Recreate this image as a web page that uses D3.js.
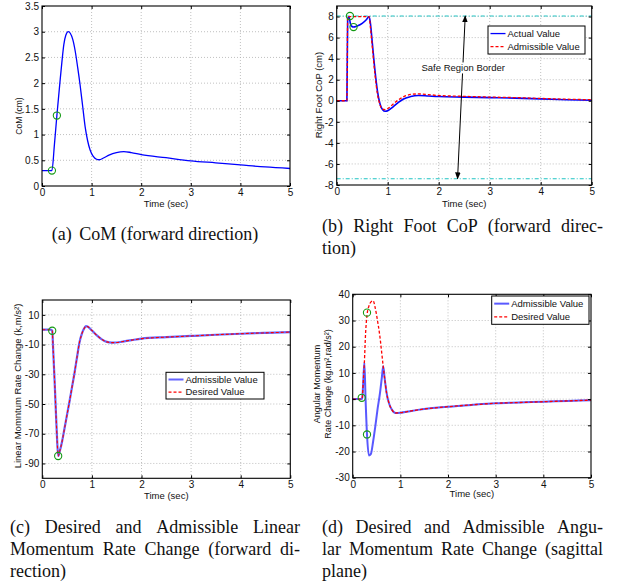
<!DOCTYPE html>
<html lang="en">
<head>
<meta charset="UTF-8">
<title>Push recovery - CoM, CoP and momentum rate change</title>
<script src="https://cdn.jsdelivr.net/npm/d3@7"></script>
<style>
body { margin: 0; background: #fff; }
.caption { font-family: "Liberation Serif", "Times New Roman", serif; font-size: 18px; fill: #111; }
</style>
</head>
<body>
<svg id="fig" width="623" height="586"></svg>
<script>
// shared x ticks (seconds)
const timeTicks = [0, 1, 2, 3, 4, 5];

// (a) CoM forward direction
const comTicks = [0, 0.5, 1, 1.5, 2, 2.5, 3, 3.5];
const comTime = [0, 0.2, 0.25, 0.3, 0.36, 0.4, 0.44, 0.48, 0.53, 0.57, 0.62, 0.67, 0.72, 0.77, 0.82, 0.87, 0.92, 0.97, 1.03, 1.1, 1.15, 1.25, 1.35, 1.5, 1.65, 1.8, 2.0, 2.5, 3.0, 3.5, 4.0, 4.5, 5.0];
const comValue = [0.3, 0.3, 0.8, 1.37, 2.0, 2.4, 2.75, 2.93, 3.0, 2.97, 2.85, 2.62, 2.3, 1.95, 1.55, 1.15, 0.88, 0.7, 0.58, 0.52, 0.51, 0.55, 0.6, 0.65, 0.67, 0.65, 0.61, 0.55, 0.49, 0.45, 0.41, 0.37, 0.34];
const comMarkTime = [0.2, 0.3];
const comMarkValue = [0.3, 1.37];

// (b) right foot CoP
const copTicks = [-8, -6, -4, -2, 0, 2, 4, 6, 8];
const copTime = [0, 0.2, 0.215, 0.24, 0.27, 0.3, 0.33, 0.4, 0.5, 0.58, 0.635, 0.66, 0.7, 0.75, 0.8, 0.85, 0.9, 0.95, 1.0, 1.1, 1.2, 1.3, 1.45, 1.6, 1.8, 2.0, 2.5, 3.0, 3.5, 4.0, 4.5, 5.0];
const copActual = [0, 0, 7.8, 7.95, 7.3, 7.05, 7.0, 7.1, 7.35, 7.7, 8.0, 7.4, 5.4, 2.9, 0.9, -0.3, -0.85, -1.0, -0.95, -0.6, -0.2, 0.15, 0.4, 0.5, 0.45, 0.4, 0.35, 0.3, 0.25, 0.18, 0.1, 0.05];
const copAdmissible = [0, 0, 8, 8, 8, 8, 8, 8, 8, 8, 8, 7.0, 5.0, 2.5, 0.6, -0.4, -0.8, -0.85, -0.75, -0.35, 0.05, 0.35, 0.6, 0.65, 0.58, 0.5, 0.42, 0.35, 0.3, 0.22, 0.15, 0.1];
const copMarkTime = [0.26, 0.33];
const copMarkValue = [8.05, 7.0];
const safeBorder = [8.05, -7.4];

// (c) linear momentum rate change
const linTicks = [10, -10, -30, -50, -70, -90];
const linTime = [0, 0.17, 0.2, 0.22, 0.25, 0.28, 0.3, 0.32, 0.35, 0.4, 0.45, 0.5, 0.55, 0.6, 0.65, 0.7, 0.75, 0.8, 0.85, 0.88, 0.92, 1.0, 1.1, 1.2, 1.3, 1.4, 1.5, 1.65, 1.8, 2.0, 2.5, 3.0, 3.5, 4.0, 4.5, 5.0];
const linAdmissible = [0, 0, -0.7, -14, -36, -60, -75, -85, -82, -75, -66, -57, -48, -38.5, -29, -18.5, -8.5, -2.5, 1.2, 2.4, 2.0, -0.5, -3.8, -6.5, -8.2, -8.7, -8.6, -7.8, -7.0, -6.0, -5.0, -4.2, -3.4, -2.7, -2.1, -1.6];
const linDesired = [0, 0, -0.7, -14, -36, -60, -75, -85, -82, -75, -66, -57, -48, -38.5, -29, -18.5, -8.5, -2.5, 1.2, 2.4, 2.0, -0.5, -3.8, -6.5, -8.2, -8.7, -8.6, -7.8, -7.0, -6.0, -5.0, -4.2, -3.4, -2.7, -2.1, -1.6];
const linMarkTime = [0.2, 0.32];
const linMarkValue = [-0.7, -85];

// (d) angular momentum rate change
const angTicks = [-30, -20, -10, 0, 10, 20, 30, 40];
const angTime = [0, 0.18, 0.2, 0.22, 0.245, 0.27, 0.3, 0.34, 0.38, 0.43, 0.47, 0.52, 0.57, 0.61, 0.64, 0.67, 0.71, 0.76, 0.82, 0.9, 1.0, 1.2, 1.5, 2.0, 2.5, 3.0, 3.5, 4.0, 4.5, 5.0];
const angAdmissible = [0, 0, 0.5, 6, 14, 0, -13.5, -21.5, -21, -16, -11, -4, 2, 8, 12.5, 8, 2.5, -1.5, -4, -5.3, -5.2, -4.6, -3.8, -2.9, -2.2, -1.6, -1.3, -1.0, -0.7, -0.4];
const angDesired = [0, 0, 0.5, 6, 14, 25, 32, 35.5, 37, 37.5, 35, 30, 24, 17.5, 12.5, 8, 2.5, -1.5, -4, -5.3, -5.2, -4.6, -3.8, -2.9, -2.2, -1.6, -1.3, -1.0, -0.7, -0.4];
const angMarkTime = [0.19, 0.3, 0.3];
const angMarkValue = [0.5, 33, -13.5];

const SANS = "'Liberation Sans', Arial, Helvetica, sans-serif";
const BLUE = "#0000ff";
const RED = "#ff0000";
const GREEN = "#149a14";
const CYAN = "#1fc4c4";

const svg = d3.select("#fig");
svg.append("rect").attr("width", 623).attr("height", 586).attr("fill", "#fff");

// matlab style: plain hyphen as minus
const fmt = v => String(v);

function makeAxes(box, yDomain, yTicks) {
    const x = d3.scaleLinear().domain([0, 5]).range([box.left, box.right]);
    const y = d3.scaleLinear().domain(yDomain).range([box.bottom, box.top]);
    const g = svg.append("g");

    // dotted grid
    g.selectAll(".gx").data(timeTicks.filter(t => t > 0 && t < 5)).join("line")
        .attr("x1", d => x(d)).attr("x2", d => x(d))
        .attr("y1", box.top).attr("y2", box.bottom)
        .attr("stroke", "#b0b0b0").attr("stroke-width", 0.8).attr("stroke-dasharray", "1,2");
    g.selectAll(".gy").data(yTicks.filter(v => v > yDomain[0] && v < yDomain[1])).join("line")
        .attr("x1", box.left).attr("x2", box.right)
        .attr("y1", d => y(d)).attr("y2", d => y(d))
        .attr("stroke", "#b0b0b0").attr("stroke-width", 0.8).attr("stroke-dasharray", "1,2");

    const axes = svg.append("g").attr("font-family", SANS).attr("font-size", 9.5);
    axes.append("g").attr("transform", `translate(0,${box.bottom})`)
        .call(d3.axisBottom(x).tickValues(timeTicks).tickSize(-3).tickPadding(3).tickFormat(fmt));
    axes.append("g").attr("transform", `translate(0,${box.top})`)
        .call(d3.axisTop(x).tickValues(timeTicks).tickSize(-3).tickFormat(""));
    axes.append("g").attr("transform", `translate(${box.left},0)`)
        .call(d3.axisLeft(y).tickValues(yTicks).tickSize(-3).tickPadding(3).tickFormat(fmt));
    axes.append("g").attr("transform", `translate(${box.right},0)`)
        .call(d3.axisRight(y).tickValues(yTicks).tickSize(-3).tickFormat(""));
    axes.selectAll(".domain").remove();
    axes.selectAll("text").attr("fill", "#111");

    return { x, y, g };
}

function frame(box) {
    svg.append("rect")
        .attr("x", box.left).attr("y", box.top)
        .attr("width", box.right - box.left).attr("height", box.bottom - box.top)
        .attr("fill", "none").attr("stroke", "#000").attr("stroke-width", 1.1);
}

function series(ax, times, values, color, opts = {}) {
    const line = d3.line()
        .x((d, i) => ax.x(times[i]))
        .y(d => ax.y(d))
        .curve(d3.curveMonotoneX);
    ax.g.append("path")
        .attr("d", line(values))
        .attr("fill", "none")
        .attr("stroke", color)
        .attr("stroke-width", opts.width || 1.3)
        .attr("stroke-opacity", opts.opacity || 1)
        .attr("stroke-dasharray", opts.dash || null);
}

function markers(ax, times, values) {
    ax.g.selectAll(null).data(values).join("circle")
        .attr("cx", (d, i) => ax.x(times[i]))
        .attr("cy", d => ax.y(d))
        .attr("r", 3.6)
        .attr("fill", "none")
        .attr("stroke", GREEN)
        .attr("stroke-width", 1.1);
}

function legend(x0, y0, w, h, items) {
    const g = svg.append("g").attr("font-family", SANS).attr("font-size", 9.5);
    g.append("rect").attr("x", x0).attr("y", y0).attr("width", w).attr("height", h)
        .attr("fill", "#fff").attr("stroke", "#000").attr("stroke-width", 1);
    items.forEach((it, i) => {
        const cy = y0 + h * (i === 0 ? 0.27 : 0.74);
        g.append("line").attr("x1", x0 + 2.5).attr("x2", x0 + 17.5).attr("y1", cy).attr("y2", cy)
            .attr("stroke", it.color).attr("stroke-width", it.width || 1.3)
            .attr("stroke-opacity", it.opacity || 1)
            .attr("stroke-dasharray", it.dash || null);
        g.append("text").attr("x", x0 + 19.5).attr("y", cy).attr("dy", "0.35em")
            .attr("fill", "#111").text(it.label);
    });
}

function yLabel(x, y, lines, size) {
    const t = svg.append("text")
        .attr("transform", `translate(${x},${y}) rotate(-90)`)
        .attr("text-anchor", "middle").attr("font-family", SANS).attr("font-size", size)
        .attr("fill", "#111");
    lines.forEach((l, i) => t.append("tspan").attr("x", 0).attr("dy", i === 0 ? 0 : "1.25em").text(l));
}

function xLabel(ax, y) {
    svg.append("text").attr("x", (ax.x(0) + ax.x(5)) / 2).attr("y", y)
        .attr("text-anchor", "middle").attr("font-family", SANS).attr("font-size", 9.5)
        .attr("fill", "#111").text("Time (sec)");
}

// ---------- (a)
const boxA = { left: 42, right: 290, top: 6, bottom: 186 };
const axA = makeAxes(boxA, [0, 3.5], comTicks);
series(axA, comTime, comValue, BLUE, { width: 1.3 });
markers(axA, comMarkTime, comMarkValue);
frame(boxA);
yLabel(21.5, 116, ["CoM (cm)"], 8.5);
xLabel(axA, 206.5);

// ---------- (b)
const boxB = { left: 336.7, right: 591.7, top: 6, bottom: 185 };
const axB = makeAxes(boxB, [-8, 9], copTicks);
safeBorder.forEach(v => {
    axB.g.append("line").attr("x1", boxB.left).attr("x2", boxB.right)
        .attr("y1", axB.y(v)).attr("y2", axB.y(v))
        .attr("stroke", CYAN).attr("stroke-width", 1.1).attr("stroke-dasharray", "4,2,1,2");
});
series(axB, copTime, copActual, BLUE, { width: 1.6 });
series(axB, copTime, copAdmissible, RED, { width: 1.3, dash: "3,2" });
markers(axB, copMarkTime, copMarkValue);
// arrow marking the safe region border
const defs = svg.append("defs");
defs.append("marker").attr("id", "ah").attr("viewBox", "0 0 10 10").attr("refX", 9).attr("refY", 5)
    .attr("markerWidth", 7).attr("markerHeight", 7).attr("orient", "auto-start-reverse")
    .append("path").attr("d", "M0,1 L10,5 L0,9 Z").attr("fill", "#000");
axB.g.append("line")
    .attr("x1", axB.x(2.37)).attr("y1", axB.y(safeBorder[1]))
    .attr("x2", axB.x(2.52)).attr("y2", axB.y(safeBorder[0]))
    .attr("stroke", "#000").attr("stroke-width", 1)
    .attr("marker-start", "url(#ah)").attr("marker-end", "url(#ah)");
const safeText = svg.append("text").attr("x", axB.x(2.48)).attr("y", axB.y(3.1)).attr("dy", "0.35em")
    .attr("text-anchor", "middle").attr("font-family", SANS).attr("font-size", 9.5)
    .attr("fill", "#111").text("Safe Region Border");
const sb = safeText.node().getBBox();
svg.insert("rect", () => safeText.node())
    .attr("x", sb.x - 1).attr("y", sb.y).attr("width", sb.width + 2).attr("height", sb.height)
    .attr("fill", "#fff");
frame(boxB);
legend(488, 26, 97, 28, [
    { label: "Actual Value", color: BLUE, width: 1.3 },
    { label: "Admissible Value", color: RED, dash: "3,2" }
]);
yLabel(321.5, 95, ["Right Foot CoP (cm)"], 9.5);
xLabel(axB, 206.5);

// ---------- (c)
const boxC = { left: 42.3, right: 290.3, top: 300, bottom: 478.3 };
const axC = makeAxes(boxC, [-100, 20], linTicks);
series(axC, linTime, linAdmissible, "#3030ff", { width: 2.2, opacity: 0.75 });
series(axC, linTime, linDesired, RED, { width: 1.1, dash: "3,2" });
markers(axC, linMarkTime, linMarkValue);
frame(boxC);
legend(166, 372.3, 98, 26.7, [
    { label: "Admissible Value", color: "#3030ff", width: 2, opacity: 0.75 },
    { label: "Desired Value", color: RED, dash: "3,2" }
]);
yLabel(20.5, 386, ["Linear Momntum Rate Change (k,m/s\u00b2)"], 9.5);
xLabel(axC, 498.5);

// ---------- (d)
const boxD = { left: 352.7, right: 591, top: 294.3, bottom: 477.7 };
const axD = makeAxes(boxD, [-30, 40], angTicks);
series(axD, angTime, angAdmissible, "#3030ff", { width: 2, opacity: 0.8 });
series(axD, angTime, angDesired, RED, { width: 1.3, dash: "3,2" });
markers(axD, angMarkTime, angMarkValue);
frame(boxD);
legend(491.7, 296, 97.3, 28.3, [
    { label: "Admissible Value", color: "#3030ff", width: 2, opacity: 0.8 },
    { label: "Desired Value", color: RED, dash: "3,2" }
]);
yLabel(319.5, 384, ["Angular Momentum", "Rate Change (kg.m\u00b2,rad/s\u00b2)"], 9);
xLabel(axD, 497);

// ---------- captions (justified like the paper's subcaptions)
function caption(lines, x0, width, baseline0, lineH, centered) {
    lines.forEach((line, li) => {
        const y = baseline0 + li * lineH;
        const words = line.split(" ");
        const nodes = words.map(w => svg.append("text").attr("class", "caption").attr("y", y).text(w));
        const lens = nodes.map(n => n.node().getComputedTextLength());
        const total = d3.sum(lens);
        const space = 4.5;
        let gap = space;
        let x = x0;
        const last = li === lines.length - 1;
        if (centered) {
            x = x0 + (width - total - space * (words.length - 1) - 3) / 2;
        } else if (!last && words.length > 1) {
            gap = (width - total) / (words.length - 1);
        }
        nodes.forEach((n, i) => {
            n.attr("x", x);
            x += lens[i] + gap + (i === 0 && centered ? 3 : 0);
        });
    });
}

caption(["(a) CoM (forward direction)"], 10, 290, 240, 22, true);
caption(["(b) Right Foot CoP (forward direc-", "tion)"], 322, 281, 232, 22, false);
caption(["(c) Desired and Admissible Linear", "Momentum Rate Change (forward di-", "rection)"], 10, 290, 533, 21.8, false);
caption(["(d) Desired and Admissible Angu-", "lar Momentum Rate Change (sagittal", "plane)"], 322, 281, 533, 21.8, false);
</script>
</body>
</html>
